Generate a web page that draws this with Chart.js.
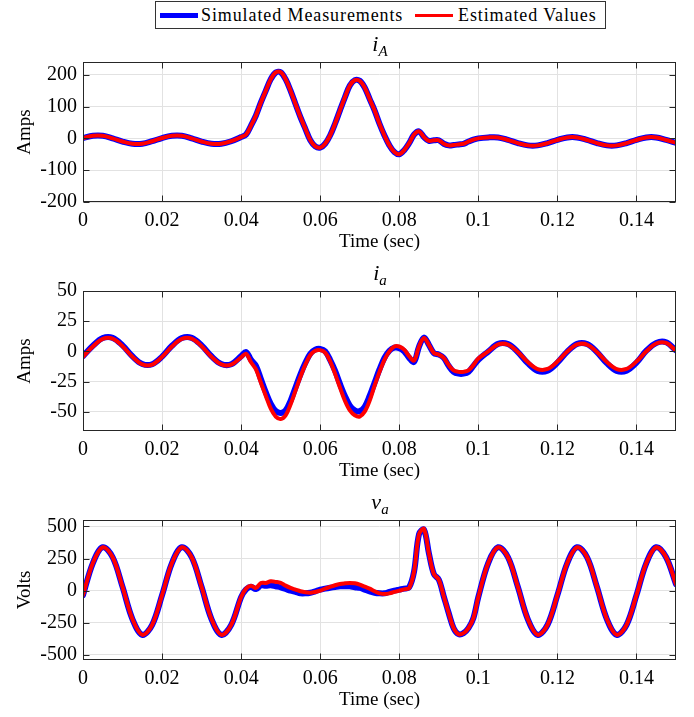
<!DOCTYPE html>
<html>
<head>
<meta charset="utf-8">
<script src="https://cdn.jsdelivr.net/npm/chart.js@4.4.1/dist/chart.umd.min.js"></script>
<style>
  body { margin: 0; background: #fff; }
  #wrap { position: relative; width: 694px; height: 717px; font-family: 'Liberation Serif', 'Times New Roman', serif; color: #000; }
  .panel { position: absolute; left: 0; width: 694px; height: 210px; }
  .ttl { position: absolute; left: 380px; transform: translateX(-50%); font-size: 22px; font-style: italic; white-space: nowrap; line-height: 24px; }
  .ttl sub { font-size: 15px; font-style: italic; vertical-align: -5px; line-height: 0; }
  #legend { position: absolute; left: 155px; top: 1px; width: 449px; height: 26px; border: 1px solid #333; font-size: 18px; letter-spacing: 0.9px; background: #fff; }
  #legend .sw { position: absolute; top: 50%; width: 38px; }
  #legend .lb { position: absolute; top: 2px; line-height: 22px; white-space: nowrap; }
</style>
</head>
<body>
<div id="wrap">
  <div class="panel" style="top:45px"><canvas id="chartIA"></canvas></div>
  <div class="panel" style="top:274px"><canvas id="chartIa"></canvas></div>
  <div class="panel" style="top:503px"><canvas id="chartVa"></canvas></div>
  <div id="legend">
    <span class="sw" style="left:4px;height:5px;margin-top:-2px;background:#0000ff"></span>
    <span class="lb" style="left:45px">Simulated Measurements</span>
    <span class="sw" style="left:259px;height:3px;margin-top:-1px;background:#ff0000"></span>
    <span class="lb" style="left:302px">Estimated Values</span>
  </div>
  <div class="ttl" style="top:32px">i<sub>A</sub></div>
  <div class="ttl" style="top:261px">i<sub>a</sub></div>
  <div class="ttl" style="top:490px">v<sub>a</sub></div>
</div>
<script>
// ── Data ─────────────────────────────────────────────────────────────────────
const timeSec = [
  0, 0.0025, 0.005, 0.0075, 0.01, 0.0125, 0.015, 0.0175, 0.02, 0.0225, 0.025, 0.0275, 0.03, 0.0325, 0.035, 0.0375,
  0.04, 0.04125, 0.0425, 0.04375, 0.045, 0.04625, 0.0475, 0.04875, 0.05, 0.05125, 0.0525, 0.05375, 0.055, 0.05625,
  0.0575, 0.05875, 0.06, 0.06125, 0.0625, 0.06375, 0.065, 0.06625, 0.0675, 0.06875, 0.07, 0.07125, 0.0725, 0.07375,
  0.075, 0.07625, 0.0775, 0.07875, 0.08, 0.08125, 0.0825, 0.08375, 0.085, 0.08625, 0.0875, 0.08875, 0.09, 0.09125,
  0.0925, 0.09375, 0.095, 0.09625, 0.0975, 0.09875, 0.1,
  0.1025, 0.105, 0.1075, 0.11, 0.1125, 0.115, 0.1175, 0.12, 0.1225, 0.125, 0.1275, 0.13, 0.1325, 0.135, 0.1375,
  0.14, 0.1425, 0.145, 0.1475, 0.15
];

// i_A (Amps)
const iAMeas = [
  1, 8, 8, 0, -10, -17, -17, -9, 1, 8, 8, 0, -10, -17, -17, -9,
  4, 12, 40, 72, 113, 150, 186, 207, 208, 186, 150, 108, 67, 30, -6, -25, -29, -17, 9, 46,
  88, 129, 166, 183, 181, 160, 124, 88, 46, 9, -22, -43, -50, -37, -15, 12, 22, 4, -8, -6,
  -6, -17, -22, -21, -19, -17, -10, -4, 0,
  3, 3, -5, -15, -22, -22, -15, -5, 3, 3, -5, -15, -22, -22, -15, -5, 3, 3, -5, -14
];
const iAEst = [
  1, 8, 8, 0, -10, -17, -17, -9, 1, 8, 8, 0, -10, -17, -17, -9,
  4, 12, 40, 72, 113, 150, 186, 207, 208, 186, 150, 108, 67, 30, -6, -25, -29, -17, 9, 46,
  88, 129, 166, 183, 181, 160, 124, 88, 46, 9, -22, -43, -50, -37, -15, 12, 22, 4, -8, -6,
  -6, -17, -22, -21, -19, -17, -10, -4, 0,
  3, 3, -5, -15, -22, -22, -15, -5, 3, 3, -5, -15, -22, -22, -15, -5, 3, 3, -5, -14
];

// i_a (Amps)
const iaMeas = [
  -4, 4.6, 11, 11.2, 4.9, -4.1, -10.5, -10.7, -4.4, 4.6, 11, 11.2, 4.9, -4.1, -10.5, -10.7,
  -4, -0.5, -7, -12, -23, -34, -43.5, -49.5, -51, -49, -41, -30, -19, -9.5, -2, 1.4, 2, 0, -7, -16,
  -27, -37, -45, -49, -49.5, -46, -37, -26, -15, -5.4, 0.5, 3, 2.7, 0, -5.4, -8.7, 4, 11.4, 5.4, -1.4,
  -2.7, -5.4, -12, -17, -18.5, -18.5, -17, -12, -7,
  -0.2, 6.2, 6, -0.6, -9.8, -16.2, -16, -9.4, -0.2, 6.2, 6, -0.6, -9.8, -16.2, -16, -9.4, 0.5, 7, 7.5, 0.8
];
const iaEst = [
  -4.5, 4, 10.3, 10.5, 4.3, -4.5, -10.8, -11, -4.6, 4, 10.3, 10.5, 4.3, -4.5, -10.8, -11,
  -5, -2, -9, -15, -26, -37, -47.5, -54, -56, -53, -44, -32.6, -21, -11, -3, 0.5, 1, -1, -8, -18.5,
  -30, -41, -49, -53, -54, -50, -41, -28.5, -17, -7, 0, 4, 4, 1.4, -4, -7.6, 4, 11, 5.4, -1.4,
  -2.7, -5.4, -11.4, -15.8, -17, -17, -15.8, -11.4, -6,
  -0.1, 5.7, 5.6, -0.5, -8.9, -14.7, -14.6, -8.5, -0.1, 5.7, 5.6, -0.5, -8.9, -14.7, -14.6, -8.5, 0, 6.5, 7, 0.5
];

// v_a (Volts)
const vaMeas = [
  -35, 215, 338, 260, 29, -221, -344, -266, -35, 215, 338, 260, 29, -221, -344, -266,
  -50, 10, 30, 12, 40, 38, 42, 34, 26, 13, 0, -10, -21, -21, -16, -5, 8, 16, 23, 29,
  34, 34, 34, 26, 21, 8, -5, -16, -21, -21, -10, 0, 8, 16, 26, 150, 440, 475, 290, 130,
  86, -44, -174, -292, -339, -331, -292, -214, -50,
  215, 338, 260, 29, -221, -344, -266, -35, 215, 338, 260, 29, -221, -344, -266, -35, 215, 338, 260, 50
];
const vaEst = [
  -35, 215, 338, 260, 29, -221, -344, -266, -35, 215, 338, 260, 29, -221, -344, -266,
  -50, 16, 39, 21, 60, 60, 73, 68, 60, 39, 21, 8, -5, -13, -16, -10, 0, 16, 29, 42,
  52, 57, 60, 57, 47, 31, 16, -5, -21, -26, -21, -10, 0, 10, 21, 150, 440, 480, 290, 130,
  86, -44, -174, -292, -339, -331, -292, -214, -50,
  215, 338, 260, 29, -221, -344, -266, -35, 215, 338, 260, 29, -221, -344, -266, -35, 215, 338, 260, 50
];

const xTicks = [0, 0.02, 0.04, 0.06, 0.08, 0.1, 0.12, 0.14];

// ── Chart.js defaults ────────────────────────────────────────────────────────
Chart.defaults.font.family = "'Liberation Serif', 'Times New Roman', serif";
Chart.defaults.font.size = 20;
Chart.defaults.color = '#000';

const GRID = '#e2e2e2';
const AXIS = '#262626';

// box round the plot area with inward ticks on all four sides
const boxPlugin = {
  id: 'boxPlugin',
  afterDatasetsDraw(chart) {
    const { ctx, chartArea: a, scales } = chart;
    const L = Math.round(a.left) + 0.5, R = Math.round(a.right) - 0.5;
    const T = Math.round(a.top) + 0.5, B = Math.round(a.bottom) - 0.5;
    ctx.save();
    ctx.strokeStyle = AXIS;
    ctx.lineWidth = 1;
    ctx.strokeRect(L, T, R - L, B - T);
    ctx.beginPath();
    scales.x.ticks.forEach(t => {
      const px = Math.round(scales.x.getPixelForValue(t.value)) + 0.5;
      ctx.moveTo(px, B); ctx.lineTo(px, B - 6);
      ctx.moveTo(px, T); ctx.lineTo(px, T + 6);
    });
    scales.y.ticks.forEach(t => {
      const py = Math.round(scales.y.getPixelForValue(t.value)) + 0.5;
      ctx.moveTo(L, py); ctx.lineTo(L + 6, py);
      ctx.moveTo(R, py); ctx.lineTo(R - 6, py);
    });
    ctx.stroke();
    ctx.restore();
  }
};

function pts(vals) {
  return timeSec.map((t, i) => ({ x: t, y: vals[i] }));
}

function makePanel(id, meas, est, yMin, yMax, yStep, yTitle) {
  return new Chart(document.getElementById(id), {
    type: 'line',
    data: {
      datasets: [
        { label: 'Simulated Measurements', data: pts(meas), borderColor: '#0000ff', borderWidth: 6, order: 2 },
        { label: 'Estimated Values', data: pts(est), borderColor: '#ff0000', borderWidth: 4, order: 1 }
      ]
    },
    options: {
      responsive: false,
      maintainAspectRatio: false,
      animation: false,
      events: [],
      layout: { padding: { top: 17, right: 18, left: 0, bottom: 0 } },
      elements: {
        point: { radius: 0 },
        line: { tension: 0.35, borderCapStyle: 'round', borderJoinStyle: 'round' }
      },
      plugins: { legend: { display: false }, tooltip: { enabled: false } },
      scales: {
        x: {
          type: 'linear',
          min: 0,
          max: 0.15,
          afterFit: s => { s.height = 53; s.paddingLeft = 0; s.paddingRight = 0; },
          afterBuildTicks: s => { s.ticks = xTicks.map(v => ({ value: v })); },
          ticks: {
            padding: 7,
            maxRotation: 0,
            callback: v => String(Math.round(v * 100) / 100)
          },
          grid: { color: GRID, drawTicks: false },
          border: { display: false },
          title: { display: true, text: 'Time (sec)', font: { size: 19 }, padding: { top: 0, bottom: 2 } }
        },
        y: {
          min: yMin,
          max: yMax,
          afterFit: s => { s.width = 83; s.paddingTop = 0; s.paddingBottom = 0; },
          ticks: { stepSize: yStep, includeBounds: false, padding: 6 },
          grid: { color: GRID, drawTicks: false },
          border: { display: false },
          title: { display: true, text: yTitle, font: { size: 19 }, padding: { top: 14, bottom: 0 } }
        }
      }
    },
    plugins: [boxPlugin]
  });
}

['chartIA', 'chartIa', 'chartVa'].forEach(id => {
  const c = document.getElementById(id);
  c.width = 694; c.height = 210;
});

makePanel('chartIA', iAMeas, iAEst, -200, 240, 100, 'Amps');
makePanel('chartIa', iaMeas, iaEst, -66, 50, 25, 'Amps');
makePanel('chartVa', vaMeas, vaEst, -540, 550, 250, 'Volts');
</script>
</body>
</html>
